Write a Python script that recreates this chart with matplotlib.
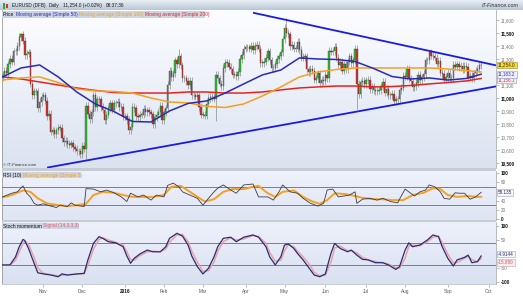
import numpy as np
import pandas as pd
import matplotlib
matplotlib.use('Agg')
import matplotlib.pyplot as plt
from matplotlib.colors import LinearSegmentedColormap
from matplotlib.patches import Rectangle

plt.rcParams['font.family'] = ['Liberation Sans', 'DejaVu Sans']

# EUR/USD daily closes (x10000), one list per month
close_oct15 = [11180, 11210, 11190, 11260, 11300, 11280, 11360, 11360, 11400, 11470, 11490,
               11440, 11330, 11340, 11350, 11110, 11020, 11050, 11050, 10920, 10970, 11010]
close_nov15 = [11020, 10980, 10860, 10880, 10740, 10750, 10720, 10750, 10770, 10770, 10690,
               10660, 10670, 10645, 10640, 10650, 10620, 10610, 10590, 10590, 10565]
close_dec15 = [10630, 10610, 10940, 10880, 10835, 10890, 11020, 10930, 10990, 10990, 10930, 10910,
               10830, 10870, 10920, 10960, 10910, 10960, 10960, 10970, 10930, 10930, 10860]
close_jan16 = [10860, 10830, 10750, 10780, 10930, 10920, 10860, 10850, 10870, 10870, 10915,
               10890, 10905, 10890, 10875, 10800, 10850, 10870, 10895, 10940, 10830]
close_feb16 = [10890, 10920, 11100, 11210, 11160, 11190, 11290, 11260, 11320, 11250, 11150,
               11150, 11130, 11100, 11130, 11020, 11020, 11010, 11020, 10930, 10870]
close_mar16 = [10870, 10865, 10955, 11000, 11010, 11005, 10995, 11180, 11150, 11110, 11090, 11230,
               11270, 11270, 11240, 11220, 11180, 11180, 11170, 11200, 11300, 11330, 11380]
close_apr16 = [11390, 11390, 11380, 11400, 11370, 11400, 11410, 11380, 11270, 11270, 11280,
               11310, 11360, 11290, 11230, 11230, 11260, 11300, 11320, 11350, 11450]
close_may16 = [11540, 11500, 11490, 11400, 11410, 11380, 11380, 11430, 11370, 11310, 11315,
               11320, 11220, 11200, 11225, 11210, 11140, 11150, 11190, 11115, 11140, 11130]
close_jun16 = [11180, 11150, 11365, 11355, 11360, 11395, 11310, 11250, 11280, 11210, 11260,
               11220, 11280, 11320, 11270, 11290, 11380, 11110, 11030, 11120, 11130, 11105]
close_jul16 = [11135, 11140, 11070, 11090, 11060, 11050, 11055, 11060, 11090, 11125, 11040,
               11070, 11020, 11020, 11030, 10975, 10990, 10990, 11060, 11080, 11170]
close_aug16 = [11165, 11225, 11150, 11130, 11085, 11090, 11115, 11180, 11135, 11160, 11185, 11290,
               11290, 11350, 11325, 11320, 11310, 11265, 11285, 11195, 11185, 11140, 11160]
close_sep16 = [11195, 11155, 11150, 11255, 11240, 11260, 11235, 11245, 11220, 11245, 11240,
               11155, 11170, 11150, 11190, 11210, 11225, 11250, 11254]
first_open = 11160

# days with long wicks
spike_high = {'2016-05-03': 11616, '2016-02-11': 11376, '2016-08-18': 11366, '2015-10-15': 11500}
spike_low = {'2016-03-10': 10822, '2016-06-24': 10912, '2015-12-03': 10530}

# moving averages, sampled every 10 trading days (+ last day)
ma_days = list(range(0, 251, 10)) + [258]
ma50 = [11162, 11231, 11254, 11162, 11046, 10954, 10896, 10819, 10815, 10900, 10958, 10977, 11038,
        11108, 11177, 11215, 11308, 11300, 11296, 11281, 11227, 11165, 11146, 11154, 11138, 11150, 11183]
ma100 = [11138, 11154, 11162, 11119, 11069, 11054, 11050, 11038, 11000, 10969, 10962, 10935, 10927,
         10954, 11015, 11085, 11162, 11200, 11219, 11231, 11231, 11231, 11231, 11231, 11223, 11211, 11200]
ma200 = [11162, 11146, 11123, 11100, 11077, 11058, 11042, 11038, 11038, 11038, 11046, 11046, 11038,
         11038, 11046, 11062, 11077, 11085, 11092, 11092, 11085, 11088, 11096, 11108, 11119, 11131, 11150]

# triangle trend lines (date, price)
upper_days = ['2016-04-07', '2016-10-07']
upper_px = [11656, 11251]
lower_days = ['2015-11-04', '2016-10-07']
lower_px = [10464, 11089]

# RSI(10) and its 5-day average, (trading day, value)
rsi_pts = [(0, 48), (5, 56), (8, 59), (11, 72), (13, 56), (15, 48), (17, 34), (19, 30), (22, 33), (26, 28),
           (29, 25), (31, 30), (35, 27), (37, 35), (39, 30), (44, 27), (45, 66), (49, 65), (53, 59), (56, 63),
           (60, 57), (64, 48), (67, 38), (69, 56), (73, 48), (76, 52), (80, 41), (83, 52), (87, 48), (89, 73),
           (92, 78), (95, 70), (97, 59), (101, 52), (105, 45), (108, 30), (111, 45), (114, 59), (116, 67),
           (119, 74), (123, 63), (126, 56), (130, 74), (135, 76), (138, 48), (143, 48), (146, 41), (149, 59),
           (151, 74), (155, 59), (159, 56), (162, 45), (166, 34), (170, 28), (173, 34), (175, 63), (178, 65),
           (181, 48), (184, 50), (187, 52), (190, 59), (191, 34), (194, 43), (198, 45), (202, 41), (205, 45),
           (209, 38), (213, 35), (214, 43), (217, 65), (220, 56), (222, 50), (225, 59), (228, 63), (230, 74),
           (233, 70), (236, 59), (238, 45), (241, 43), (244, 57), (246, 56), (249, 56), (252, 43), (255, 48),
           (258, 58)]
rsi_ma_pts = [(0, 47), (5, 52), (11, 62), (15, 59), (19, 45), (24, 34), (30, 30), (35, 28), (40, 30), (45, 33),
              (49, 52), (54, 59), (60, 57), (65, 52), (70, 48), (76, 48), (81, 48), (87, 52), (91, 70), (96, 72),
              (101, 59), (107, 43), (109, 38), (114, 43), (119, 59), (124, 65), (130, 65), (135, 70), (138, 72),
              (141, 62), (143, 56), (147, 48), (151, 59), (157, 62), (162, 48), (167, 38), (171, 33), (175, 41),
              (179, 56), (185, 54), (190, 50), (194, 46), (200, 43), (205, 43), (210, 41), (216, 41), (221, 52),
              (227, 57), (232, 67), (236, 65), (240, 52), (245, 48), (251, 50), (256, 48), (258, 48)]

# Stoch momentum and signal, (trading day, value)
stoch_pts = [(0, -39), (4, -39), (7, -10), (9, 26), (11, 52), (12, 48), (14, 20), (17, -33), (19, -67), (22, -71),
             (26, -75), (30, -81), (32, -71), (35, -75), (40, -71), (44, -69), (46, -21), (49, 38), (52, 62),
             (54, 56), (57, 44), (61, 40), (65, 26), (67, -7), (69, -33), (71, -15), (74, 0), (78, 14), (81, 8),
             (85, 8), (88, 26), (90, 56), (94, 74), (97, 64), (100, 32), (102, -7), (105, -45), (108, -71),
             (111, -51), (114, -10), (116, 26), (119, 56), (123, 60), (126, 44), (130, 60), (135, 68), (138, 60),
             (142, 26), (144, -10), (147, -39), (150, -10), (152, 32), (154, 36), (157, 20), (159, 2), (162, -21),
             (166, -57), (168, -75), (171, -81), (174, -71), (177, 2), (179, 38), (182, 20), (186, 8), (188, 14),
             (191, -4), (194, -19), (197, -21), (201, -31), (205, -31), (208, -39), (212, -55), (214, -45),
             (217, 14), (219, 40), (221, 26), (225, 32), (229, 50), (232, 68), (235, 62), (237, 26), (240, -15),
             (243, -43), (245, -21), (249, -12), (251, -4), (253, -31), (256, -27), (258, -7)]
signal_pts = [(0, -40), (4, -40), (7, -22), (9, 8), (11, 38), (12, 46), (14, 34), (17, -12), (19, -50), (22, -69),
              (26, -73), (30, -78), (32, -76), (35, -74), (40, -72), (44, -70), (46, -40), (49, 18), (52, 52),
              (54, 58), (57, 50), (61, 42), (65, 32), (67, 8), (69, -20), (71, -22), (74, -6), (78, 8), (81, 10),
              (85, 8), (88, 18), (90, 42), (94, 68), (97, 70), (100, 44), (102, 10), (105, -28), (108, -62),
              (111, -60), (114, -28), (116, 10), (119, 44), (123, 58), (126, 50), (130, 54), (135, 66), (138, 63),
              (142, 38), (144, 6), (147, -26), (150, -22), (152, 12), (154, 33), (157, 26), (159, 10), (162, -10),
              (166, -42), (168, -66), (171, -78), (174, -76), (177, -30), (179, 22), (182, 28), (186, 12),
              (188, 12), (191, 4), (194, -12), (197, -20), (201, -27), (205, -31), (208, -36), (212, -49),
              (214, -50), (217, -15), (219, 28), (221, 32), (225, 30), (229, 44), (232, 60), (235, 64), (237, 40),
              (240, 0), (243, -32), (245, -30), (249, -16), (251, -8), (253, -20), (256, -28), (258, -16)]

month_names = ['Nov', 'Dec', '2016', 'Feb', 'Mar', 'Apr', 'May', 'Jun', 'Jul', 'Aug', 'Sep', 'Oct']

# ---------------------------------------------------------------
closes = (close_oct15 + close_nov15 + close_dec15 + close_jan16 + close_feb16 + close_mar16 +
          close_apr16 + close_may16 + close_jun16 + close_jul16 + close_aug16 + close_sep16)
days = pd.bdate_range('2015-10-01', '2016-10-31')
n = len(closes)
x = np.arange(n)
c = np.array(closes, dtype=float)
o = np.array([first_open] + closes[:-1], dtype=float)
wick = 28
hi = np.maximum(o, c) + wick
lo = np.minimum(o, c) - wick
for d, v in spike_high.items():
    hi[days.get_loc(pd.Timestamp(d))] = v
for d, v in spike_low.items():
    lo[days.get_loc(pd.Timestamp(d))] = v

W, H = 523, 296
fig = plt.figure(figsize=(W / 100, H / 100), dpi=100)
fig.patch.set_facecolor('white')


def box(x0, y0, x1, y1):
    return [x0 / W, 1 - y1 / H, (x1 - x0) / W, (y1 - y0) / H]


def shade(ax, top, bottom):
    cm = LinearSegmentedColormap.from_list('bg', [bottom, top])
    ax.imshow(np.linspace(0, 1, 64).reshape(-1, 1), cmap=cm, origin='lower', extent=[0, 1, 0, 1],
              transform=ax.transAxes, aspect='auto', zorder=0, interpolation='bilinear')


ax_p = fig.add_axes(box(2, 10, 496, 168))
ax_r = fig.add_axes(box(2, 171, 496, 220))
ax_s = fig.add_axes(box(2, 222, 496, 284))
shade(ax_p, '#fcfdff', '#dbe3f1')
shade(ax_r, '#eef2fb', '#dfe5f3')
shade(ax_s, '#edf1fb', '#d9e1f1')

# candles
up = c >= o
body_lo = np.minimum(o, c)
body_h = np.maximum(np.abs(c - o), 3)
ax_p.vlines(x, lo, hi, color='#8c8c8c', lw=0.5, zorder=2)
ax_p.bar(x, body_h, bottom=body_lo, width=0.75, color=np.where(up, '#2fc02f', '#d8302c'),
         edgecolor='#3a3a3a', linewidth=0.25, zorder=3)

ax_p.plot(ma_days, ma200, color='#e8231e', lw=1.1, zorder=4)
ax_p.plot(ma_days, ma100, color='#f5a020', lw=1.1, zorder=4)
ax_p.plot(ma_days, ma50, color='#2a2ab8', lw=1.1, zorder=4)

for dd, pp in [(upper_days, upper_px), (lower_days, lower_px)]:
    ix = [days.get_loc(pd.Timestamp(d)) for d in dd]
    ax_p.plot(ix, pp, color='#1a1ae6', lw=1.3, zorder=5, solid_capstyle='butt')

# RSI
rd, rv = zip(*rsi_pts)
md, mv = zip(*rsi_ma_pts)
for lvl in (70, 30):
    ax_r.axhline(lvl, color='#7070f0', lw=0.7, zorder=1)
ax_r.plot(rd, rv, color='#3c3c4c', lw=0.6, zorder=3)
ax_r.plot(md, mv, color='#f5a020', lw=1.4, zorder=2)

# Stoch momentum
sd, sv = zip(*stoch_pts)
gd, gv = zip(*signal_pts)
for lvl in (40, -40):
    ax_s.axhline(lvl, color='#7070f0', lw=0.7, zorder=1)
ax_s.plot(gd, gv, color='#e8a0ac', lw=1.1, zorder=2)
ax_s.plot(sd, sv, color='#2c2c6e', lw=0.9, zorder=3)

# limits
for ax in (ax_p, ax_r, ax_s):
    ax.set_xlim(-0.3, 266)
ax_p.set_ylim(10461, 11677)
ax_r.set_ylim(-2.2, 104.3)
ax_s.set_ylim(-107, 114.3)

LBL = 3.3


def right_ticks(ax, vals, labels, bold):
    ax.yaxis.tick_right()
    ax.set_yticks(vals)
    ax.set_yticklabels(labels)
    ax.tick_params(axis='y', length=2, width=0.4, color='#888888', pad=1.2, labelsize=LBL)
    for t, b in zip(ax.get_yticklabels(), bold):
        t.set_color('#111111' if b else '#777777')
        t.set_fontweight('bold' if b else 'normal')
    for s in ('top', 'bottom'):
        ax.spines[s].set_visible(False)
    ax.spines['left'].set_color('#8a8a8a')
    ax.spines['left'].set_linewidth(0.5)
    ax.spines['right'].set_color('#9aa0aa')
    ax.spines['right'].set_linewidth(0.5)


pvals = [10500, 10600, 10700, 10800, 10900, 11000, 11100, 11300, 11400, 11500, 11600]
right_ticks(ax_p, pvals, [f'{v:,}' for v in pvals], [v % 500 == 0 for v in pvals])
right_ticks(ax_r, [0, 20, 40, 80, 100], ['0', '20', '40', '80', '100'], [True, False, False, False, True])
right_ticks(ax_s, [-100, -50, 50, 100], ['-100', '-50', '50', '100'], [True, False, False, True])

ax_p.tick_params(axis='x', bottom=False, labelbottom=False)
ax_r.tick_params(axis='x', bottom=False, labelbottom=False)
month_pos = [i for i in range(1, len(days)) if days[i].month != days[i - 1].month]
ax_s.set_xticks(month_pos)
ax_s.set_xticklabels(month_names)
ax_s.tick_params(axis='x', length=2, width=0.4, color='#888888', pad=1.8, labelsize=3.4)
for t in ax_s.get_xticklabels():
    if t.get_text() == '2016':
        t.set_fontweight('bold')
        t.set_color('#111111')
    else:
        t.set_color('#555555')


def value_box(ax, val, text, fc, ec, tc, dy=0.0):
    ax.annotate(text, xy=(1.0, val), xycoords=('axes fraction', 'data'), xytext=(1.5, dy),
                textcoords='offset points', ha='left', va='center', fontsize=LBL, color=tc, zorder=10,
                annotation_clip=False,
                bbox=dict(boxstyle='square,pad=0.2', fc=fc, ec=ec, lw=0.4))


value_box(ax_p, 11150, '11,156.1', '#f2f2f6', '#c08888', '#e03030', dy=-1.0)
value_box(ax_p, 11183, '11,183.2', '#eef0fa', '#8c96d0', '#3030c0')
value_box(ax_p, 11254, '11,254.0', '#f6d73c', '#a88c20', '#333300')
value_box(ax_r, 58.1, '58.135', '#f4f6fb', '#9aa4c0', '#333344')
value_box(ax_s, -4.9, '-4.9144', '#f4f6fb', '#9aa4c0', '#2c2c6e', dy=1.0)
value_box(ax_s, -15.9, '-15.880', '#f8eef0', '#d0a0a8', '#e05060', dy=-2.6)

# separators and header
for y0, y1 in [(168, 171), (220, 222), (284, 285)]:
    fig.patches.append(Rectangle((2 / W, 1 - y1 / H), 494 / W, (y1 - y0) / H, transform=fig.transFigure,
                                 fc='#c7cbd2', ec='none', zorder=5))
ax_h = fig.add_axes([0, 1 - 10 / H, 1, 10 / H])
ax_h.axis('off')
shade(ax_h, '#e8eef4', '#b8c7d6')
ax_h.set_xlim(0, 1)
ax_h.set_ylim(0, 1)
fig.patches.append(Rectangle((3 / W, 1 - 9 / H), 2 / W, 6 / H, transform=fig.transFigure, fc='#2fa82f', ec='none', zorder=6))
fig.patches.append(Rectangle((6 / W, 1 - 8 / H), 2 / W, 4 / H, transform=fig.transFigure, fc='#d8302c', ec='none', zorder=6))

renderer = fig.canvas.get_renderer()


def text_row(x0, y, parts, size=3.5, gap=1.5):
    xx = x0
    for s, col in parts:
        t = fig.text(xx / W, 1 - y / H, s, color=col, fontsize=size, va='center', ha='left', zorder=8)
        xx += t.get_window_extent(renderer).width + gap


def strip(x0, y0, x1, y1):
    fig.patches.append(Rectangle((x0 / W, 1 - y1 / H), (x1 - x0) / W, (y1 - y0) / H,
                                 transform=fig.transFigure, fc='#ccd5e3', ec='none', zorder=7))


for hx, s in [(12, 'EURUSD (DFB)'), (49, 'Daily'), (63, '11,254.0 (+0.02%)'), (106, '08:37:36')]:
    fig.text(hx / W, 1 - 5.4 / H, s, fontsize=3.4, color='#1a1a1a', ha='left', va='center', zorder=8)
fig.text(519 / W, 1 - 5.4 / H, 'IT-Finance.com', fontsize=3.9, style='italic', color='#333333',
         ha='right', va='center', zorder=8)

strip(2, 11, 205, 18)
text_row(3, 14.5, [('Price', '#111111'), ('Moving average (Simple 50)', '#2a2ab8'),
                   ('Moving average (Simple 100)', '#f0a020'), ('Moving average (Simple 200)', '#e8231e')])
strip(2, 172, 81, 178)
text_row(3, 175, [('RSI (10)', '#111111'), ('Moving average (Simple 5)', '#f0a020')])
strip(2, 223, 79, 229)
text_row(3, 226, [('Stoch momentum', '#111111'), ('Signal (14,3,3,3)', '#e06070')])
fig.text(3 / W, 1 - 164.5 / H, '\u00a9 IT-Finance.com', fontsize=3.1, color='#333333', ha='left', va='center',
         zorder=8)

fig.savefig('out.png', dpi=100)
